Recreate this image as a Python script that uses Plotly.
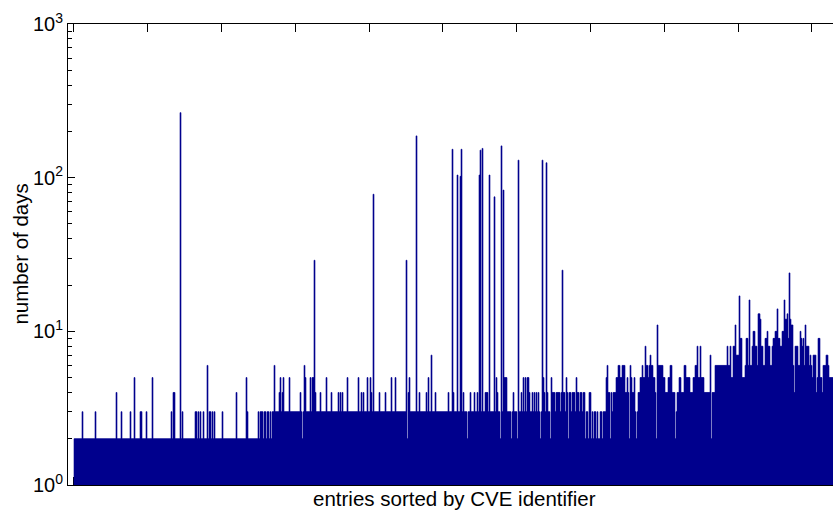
import numpy as np
import plotly.graph_objects as go

# ---- data (entry index = position in sorted CVE list) ----
base_run_lengths = [184, 292, 30]
base_run_levels = [2, 3, 4]

spike_entry = [8, 21, 42, 47, 56, 60, 66, 67, 72, 78, 97, 99, 100, 106, 108,
               121, 122, 124, 126, 129, 133, 135, 136, 138, 140, 148, 162, 172, 173,
               200, 205, 206, 208, 209, 215, 226, 230, 231, 236, 238, 239, 240, 241, 246, 252, 257,
               264, 266, 268, 273, 284, 287, 289, 293, 296, 297, 299, 305, 311, 317, 321,
               332, 334, 335, 342, 345, 352, 354, 357, 361, 374, 378, 379, 383, 386, 387, 389,
               396, 400, 403, 405, 406, 408, 411, 412, 413, 415, 420, 422, 423, 427, 429, 430, 431, 432,
               439, 444, 447, 449, 451, 453, 454, 455, 458, 460, 462, 464, 468, 469, 470, 472, 473,
               477, 488, 492, 502]
spike_days = [3, 3, 4, 3, 3, 5, 3, 3, 3, 5, 3, 4, 4, 265, 3,
              3, 3, 3, 3, 3, 6, 3, 3, 3, 3, 3, 4, 5, 3,
              6, 4, 5, 4, 5, 5, 4, 6, 5, 5, 5, 5, 29, 4, 4, 5, 4,
              4, 4, 4, 5, 5, 4, 4, 5, 5, 4, 78, 4, 4, 5, 5,
              29, 4, 5, 187, 4, 4, 5, 7, 4, 4, 153, 4, 104, 102, 153, 4,
              4, 4, 4, 104, 151, 155, 4, 4, 4, 104, 75, 5, 4, 161, 83, 5, 5, 5,
              4, 130, 4, 5, 5, 5, 5, 4, 4, 4, 4, 4, 130, 5, 4, 125, 4,
              5, 25, 5, 5]

dip_entry = [185, 189, 192, 195, 197, 228, 333, 393, 426, 437, 443, 466, 476, 494,
             481, 486, 491, 497, 501, 505]
dip_days = [2, 2, 2, 2, 2, 2, 2, 2, 2, 2, 2, 2, 2, 2,
            3, 3, 3, 3, 3, 3]

tail_days = [
    4, 4, 3, 4, 4, 2, 3, 3, 2, 4,
    4, 2, 3, 2, 3, 3, 2, 3, 2, 2,
    3, 3, 2, 3, 3, 3, 5, 6, 4, 4,
    2, 4, 3, 4, 4, 4, 5, 5, 6, 6,
    5, 5, 6, 6, 6, 4, 4, 5, 4, 2,
    6, 5, 4, 4, 5, 3, 2, 3, 4, 4,
    5, 5, 6, 5, 5, 8, 6, 6, 5, 6,
    7, 6, 6, 5, 5, 4, 2, 11, 6, 6,
    6, 6, 6, 5, 5, 4, 4, 4, 5, 5,
    6, 6, 4, 4, 4, 2, 3, 4, 4, 5,
    5, 4, 4, 4, 6, 6, 5, 5, 5, 5,
    4, 4, 4, 5, 5, 6, 6, 8, 5, 5,
    8, 5, 5, 5, 4, 4, 4, 4, 4, 4,
    7, 2, 4, 4, 4, 6, 6, 6, 6, 6,
    6, 6, 6, 6, 6, 6, 6, 8, 6, 6,
    8, 5, 5, 8, 8, 11, 7, 7, 7, 17,
    9, 9, 5, 5, 5, 6, 9, 9, 6, 16,
    6, 6, 8, 10, 10, 8, 8, 6, 13, 13,
    12, 8, 8, 6, 6, 9, 9, 10, 8, 8,
    6, 6, 8, 9, 9, 10, 10, 14, 9, 9,
    8, 8, 10, 10, 16, 12, 12, 13, 9, 24,
    12, 11, 11, 6, 4, 8, 8, 8, 6, 6,
    10, 9, 8, 9, 6, 11, 8, 8, 8, 6,
    7, 6, 5, 7, 7, 7, 4, 5, 9, 9,
    5, 5, 4, 6, 6, 6, 7, 7, 6, 5,
    5, 5, 5]

x_tick_entries = [-0.7, 73.1, 146.9, 220.7, 294.5, 368.3, 442.1, 515.9, 589.7, 663.5, 737.3]
y_tick_vals = [1, 10, 100, 1000]
y_tick_text = ["10<sup>0</sup>", "10<sup>1</sup>", "10<sup>2</sup>", "10<sup>3</sup>"]
y_minor_vals = [2, 3, 4, 5, 6, 7, 8, 9, 20, 30, 40, 50, 60, 70, 80, 90,
                200, 300, 400, 500, 600, 700, 800, 900]
x_title = "entries sorted by CVE identifier"
y_title = "number of days"

# ---- build the series ----
days = np.concatenate([np.repeat(base_run_levels, base_run_lengths), np.array(tail_days)]).astype(float)
for e, d in zip(dip_entry, dip_days):
    days[e] = d
for e, d in zip(spike_entry, spike_days):
    days[e] = d
entries = np.arange(len(days))

navy = "rgb(0,0,143)"
font_family = "Liberation Sans, Arial, Helvetica, sans-serif"

fig = go.Figure(go.Bar(
    x=entries, y=days, width=1,
    marker=dict(color=navy, line=dict(color=navy, width=0.6)),
    hoverinfo="x+y",
))

fig.update_layout(
    width=833, height=513,
    margin=dict(l=68, r=0, t=24, b=28),
    paper_bgcolor="white", plot_bgcolor="white",
    showlegend=False,
    font=dict(family=font_family, size=20, color="black"),
    xaxis=dict(
        range=[-6.5, 758.5], showticklabels=False,
        tickmode="array", tickvals=x_tick_entries,
        ticks="inside", ticklen=8, tickwidth=1, tickcolor="black",
        showline=True, linecolor="black", linewidth=1, mirror="ticks",
        showgrid=False, zeroline=False, layer="below traces",
    ),
    yaxis=dict(
        type="log", range=[0, 3],
        tickmode="array", tickvals=y_tick_vals, ticktext=y_tick_text,
        ticks="inside", ticklen=6.5, tickwidth=1, tickcolor="black",
        minor=dict(tickmode="array", tickvals=y_minor_vals, ticks="inside",
                   ticklen=4, tickwidth=1, tickcolor="black", showgrid=False),
        showline=True, linecolor="black", linewidth=1, mirror=False,
        showgrid=False, zeroline=False, layer="below traces",
        tickfont=dict(size=20, family=font_family, color="black"),
    ),
    annotations=[
        dict(text=x_title, xref="paper", yref="paper", x=0.5046, y=-0.0282,
             xanchor="center", yanchor="middle", showarrow=False,
             font=dict(size=20.5, family=font_family, color="black")),
        dict(text=y_title, xref="paper", yref="paper", x=-0.0627, y=0.5,
             xanchor="center", yanchor="middle", textangle=-90, showarrow=False,
             font=dict(size=20.5, family=font_family, color="black")),
    ],
)

fig.write_html("out.html")
